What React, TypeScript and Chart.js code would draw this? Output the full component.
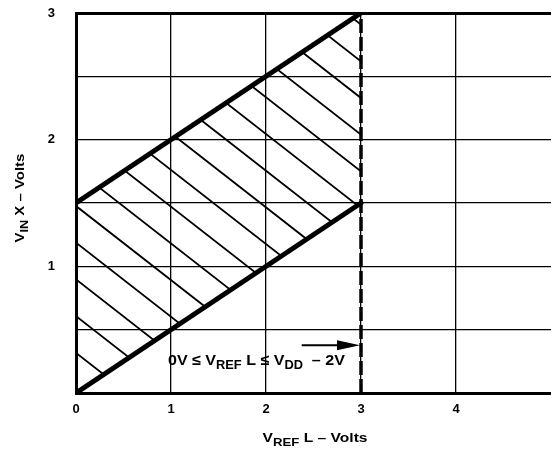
import React, { useEffect, useRef } from 'react';
import { Chart, registerables } from 'chart.js';

Chart.register(...registerables);

// ---- data ----
const xTicks = [0, 1, 2, 3, 4, 5];
const xTickLabels = ['0', '1', '2', '3', '4', ''];
const yTicks = [0, 0.5, 1, 1.5, 2, 2.5, 3];
const yTickLabels = ['', '', '1', '', '2', '', '3'];

// lower boundary of the valid region (V_IN X = V_REF L / 2)
const lowerEdgeX = [0, 3];
const lowerEdgeY = [0, 1.5];
// upper boundary of the valid region
const upperEdgeX = [0, 3];
const upperEdgeY = [1.5, 3];
// limit V_REF L = V_DD - 2V
const limitX = [3, 3];
const limitY = [0, 3];

const xTitle = [
  { t: 'V', sub: false },
  { t: 'REF', sub: true },
  { t: ' L – Volts', sub: false },
];
const yTitle = [
  { t: 'V', sub: false },
  { t: 'IN', sub: true },
  { t: ' X – Volts', sub: false },
];
const noteText = [
  { t: '0V ≤ V', sub: false },
  { t: 'REF', sub: true },
  { t: ' L ≤ V', sub: false },
  { t: 'DD', sub: true },
  { t: '  – 2V', sub: false },
];
// annotation anchors (data units)
const noteAt = { x: 0.968, y: 0.224 };
const arrowFrom = { x: 2.376, y: 0.376 };
const arrowTo = { x: 3, y: 0.376 };

const FONT = "'Liberation Sans', Arial, Helvetica, sans-serif";

const pts = (xs: number[], ys: number[]) => xs.map((x, i) => ({ x, y: ys[i] }));

type Seg = { t: string; sub: boolean };

function drawRich(
  ctx: CanvasRenderingContext2D,
  segs: Seg[],
  x: number,
  baseline: number,
  size: number,
  subSize: number,
  subDrop: number,
  align: 'left' | 'center',
  sx: number
) {
  const mainFont = `bold ${size}px ${FONT}`;
  const subFont = `bold ${subSize}px ${FONT}`;
  let w = 0;
  for (const s of segs) {
    ctx.font = s.sub ? subFont : mainFont;
    w += ctx.measureText(s.t).width;
  }
  ctx.save();
  ctx.translate(align === 'center' ? x - (w * sx) / 2 : x, baseline);
  ctx.scale(sx, 1);
  let cx = 0;
  ctx.textAlign = 'left';
  ctx.textBaseline = 'alphabetic';
  for (const s of segs) {
    ctx.font = s.sub ? subFont : mainFont;
    ctx.fillText(s.t, cx, s.sub ? subDrop : 0);
    cx += ctx.measureText(s.t).width;
  }
  ctx.restore();
}

const HATCH_SPACING = 36.7;
const HATCH_SLOPE = 0.78;
const HATCH_PHASE = 3;

const hatchPlugin = {
  id: 'hatch',
  beforeDatasetsDraw(chart: any) {
    const { ctx } = chart;
    const xs = chart.scales.x;
    const ys = chart.scales.y;
    const poly = [
      [lowerEdgeX[0], lowerEdgeY[0]],
      [lowerEdgeX[1], lowerEdgeY[1]],
      [upperEdgeX[1], upperEdgeY[1]],
      [upperEdgeX[0], upperEdgeY[0]],
    ].map(([a, b]) => [xs.getPixelForValue(a), ys.getPixelForValue(b)]);
    ctx.save();
    ctx.beginPath();
    poly.forEach(([px, py], i) => (i ? ctx.lineTo(px, py) : ctx.moveTo(px, py)));
    ctx.closePath();
    ctx.clip();
    const ax = poly[3][0];
    const ay = poly[3][1] + HATCH_PHASE;
    ctx.strokeStyle = '#000';
    ctx.lineWidth = 1.8;
    ctx.beginPath();
    for (let k = -30; k <= 30; k++) {
      const y0 = ay + k * HATCH_SPACING;
      ctx.moveTo(ax - 100, y0 - 100 * HATCH_SLOPE);
      ctx.lineTo(ax + 700, y0 + 700 * HATCH_SLOPE);
    }
    ctx.stroke();
    ctx.restore();
  },
};

const textPlugin = {
  id: 'texts',
  afterDraw(chart: any) {
    const { ctx } = chart;
    const xs = chart.scales.x;
    const ys = chart.scales.y;
    ctx.save();
    ctx.fillStyle = '#000';
    // x title
    drawRich(ctx, xTitle, 315, 442, 13, 11, 4, 'center', 1.2);
    // y title (rotated)
    ctx.save();
    ctx.translate(24, 198);
    ctx.rotate(-Math.PI / 2);
    drawRich(ctx, yTitle, 0, 0, 13, 11, 4, 'center', 1.15);
    ctx.restore();
    // annotation
    drawRich(
      ctx,
      noteText,
      xs.getPixelForValue(noteAt.x),
      ys.getPixelForValue(noteAt.y),
      15,
      12,
      4,
      'left',
      1.07
    );
    // arrow
    const x1 = xs.getPixelForValue(arrowFrom.x);
    const y1 = ys.getPixelForValue(arrowFrom.y);
    const x2 = xs.getPixelForValue(arrowTo.x) - 1;
    const y2 = ys.getPixelForValue(arrowTo.y);
    ctx.strokeStyle = '#000';
    ctx.lineWidth = 2;
    ctx.beginPath();
    ctx.moveTo(x1, y1);
    ctx.lineTo(x2 - 20, y2);
    ctx.stroke();
    ctx.beginPath();
    ctx.moveTo(x2, y2);
    ctx.lineTo(x2 - 23, y2 - 5);
    ctx.lineTo(x2 - 23, y2 + 5);
    ctx.closePath();
    ctx.fill();
    ctx.restore();
  },
};

const zeroPad = (s: any) => {
  s.paddingTop = 0;
  s.paddingBottom = 0;
  s.paddingLeft = 0;
  s.paddingRight = 0;
};

export default function App() {
  const ref = useRef<HTMLCanvasElement>(null);
  useEffect(() => {
    if (!ref.current) return;
    const chart = new Chart(ref.current, {
      type: 'scatter',
      data: {
        datasets: [
          {
            data: pts(lowerEdgeX, lowerEdgeY),
            showLine: true,
            borderColor: '#000',
            borderWidth: 5,
            pointRadius: 0,
            borderCapStyle: 'round',
          },
          {
            data: pts(upperEdgeX, upperEdgeY),
            showLine: true,
            borderColor: '#000',
            borderWidth: 5,
            pointRadius: 0,
            borderCapStyle: 'round',
          },
          {
            data: pts(limitX, limitY),
            showLine: true,
            borderColor: '#000',
            borderWidth: 3.5,
            borderDash: [14, 4],
            pointRadius: 0,
          },
        ],
      },
      options: {
        responsive: false,
        animation: false,
        layout: { padding: { top: 13, right: 0, left: 0, bottom: 0 } },
        plugins: {
          legend: { display: false },
          tooltip: { enabled: false },
        },
        scales: {
          x: {
            type: 'linear',
            min: 0,
            max: 5,
            afterBuildTicks: (s: any) => {
              s.ticks = xTicks.map((v) => ({ value: v }));
            },
            afterFit: (s: any) => {
              s.height = 58;
              zeroPad(s);
            },
            ticks: {
              color: '#000',
              font: { family: FONT, size: 13, weight: 'bold' },
              padding: 9,
              maxRotation: 0,
              callback: (v: any) => {
                const i = xTicks.indexOf(Number(v));
                return i >= 0 ? xTickLabels[i] : '';
              },
            },
            grid: {
              drawTicks: false,
              lineWidth: 1.3,
              color: (c: any) =>
                c.tick && (c.tick.value === 0 || c.tick.value === 5) ? 'rgba(0,0,0,0)' : '#000',
            },
            border: { display: true, color: '#000', width: 3 },
          },
          y: {
            type: 'linear',
            min: 0,
            max: 3,
            afterBuildTicks: (s: any) => {
              s.ticks = yTicks.map((v) => ({ value: v }));
            },
            afterFit: (s: any) => {
              s.width = 76;
              zeroPad(s);
            },
            ticks: {
              color: '#000',
              font: { family: FONT, size: 13, weight: 'bold' },
              padding: 21,
              callback: (v: any) => {
                const i = yTicks.indexOf(Number(v));
                return i >= 0 ? yTickLabels[i] : '';
              },
            },
            grid: {
              drawTicks: false,
              lineWidth: (c: any) => (c.tick && c.tick.value === 3 ? 3 : 1.3),
              color: (c: any) => (c.tick && c.tick.value === 0 ? 'rgba(0,0,0,0)' : '#000'),
            },
            border: { display: true, color: '#000', width: 3 },
          },
        },
      },
      plugins: [hatchPlugin, textPlugin],
    } as any);
    return () => chart.destroy();
  }, []);
  return (
    <canvas
      ref={ref}
      width={551}
      height={451}
      style={{ position: 'absolute', left: 0, top: 0, display: 'block', background: '#fff' }}
    />
  );
}
